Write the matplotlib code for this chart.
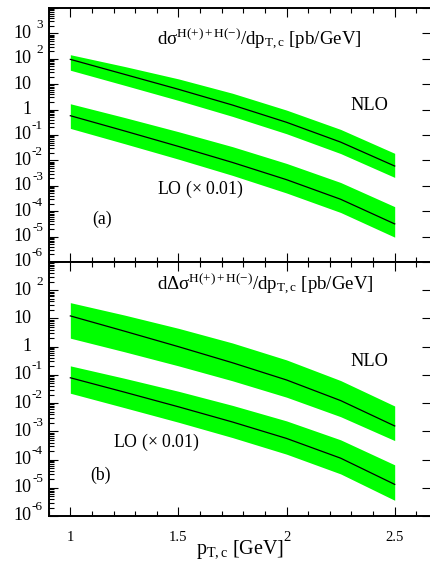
import numpy as np
import matplotlib
matplotlib.use("Agg")
import matplotlib.pyplot as plt
import matplotlib.transforms as mtransforms
from matplotlib.ticker import FixedLocator, LogLocator, NullFormatter, MultipleLocator

plt.rcParams['font.family'] = ['Liberation Serif', 'DejaVu Serif']
plt.rcParams['mathtext.fontset'] = 'custom'
plt.rcParams['mathtext.rm'] = 'Liberation Serif'
plt.rcParams['mathtext.it'] = 'Liberation Serif:italic'
plt.rcParams['mathtext.default'] = 'regular'

# pT,c values (GeV)
pt = [1.0, 1.25, 1.5, 1.75, 2.0, 2.25, 2.5]

# (a) unpolarized cross section [pb/GeV], central value and band edges
a_nlo = [95, 24.5, 6.3, 1.51, 0.316, 0.0525, 0.0060]
a_nlo_up = [145, 50, 16.2, 4.4, 0.955, 0.166, 0.019]
a_nlo_lo = [35.5, 9.1, 2.3, 0.54, 0.112, 0.0186, 0.00214]
a_lo = [0.575, 0.145, 0.0355, 0.0083, 0.00174, 2.95e-4, 3.16e-5]
a_lo_up = [1.70, 0.49, 0.135, 0.0347, 0.0076, 1.35e-3, 1.51e-4]
a_lo_lo = [0.182, 0.0457, 0.0112, 0.00257, 5.2e-4, 8.9e-5, 9.5e-6]

# (b) polarized cross section [pb/GeV]
b_nlo = [12.3, 3.55, 1.0, 0.269, 0.066, 0.0123, 0.00155]
b_nlo_up = [36.3, 13.2, 4.47, 1.35, 0.339, 0.063, 0.0079]
b_nlo_lo = [2.0, 0.66, 0.209, 0.0617, 0.0162, 0.0033, 4.7e-4]
b_lo = [0.079, 0.0245, 0.0074, 0.00214, 5.6e-4, 1.12e-4, 1.32e-5]
b_lo_up = [0.209, 0.076, 0.0263, 0.0083, 0.00234, 5.0e-4, 6.5e-5]
b_lo_lo = [0.0224, 0.0069, 0.0021, 6.0e-4, 1.55e-4, 3.1e-5, 3.6e-6]

xticks = [1, 1.5, 2, 2.5]
xticklabels = ['1', '1.5', '2', '2.5']

green = '#00ff00'
fig = plt.figure(figsize=(4.3, 5.62), dpi=100)
W, H = 430.0, 562.0
x0, x1 = 48.7, 430.8
ax_a = fig.add_axes([x0 / W, 1 - 262 / H, (x1 - x0) / W, 254 / H])
ax_b = fig.add_axes([x0 / W, 1 - 516 / H, (x1 - x0) / W, 254 / H])

panels = [
    (ax_a, a_nlo, a_nlo_up, a_nlo_lo, a_lo, a_lo_up, a_lo_lo, 4, range(-6, 4)),
    (ax_b, b_nlo, b_nlo_up, b_nlo_lo, b_lo, b_lo_up, b_lo_lo, 3, range(-6, 3)),
]
for ax, nlo, nup, nlw, lo, lup, llw, etop, labexp in panels:
    ax.fill_between(pt, nlw, nup, color=green, lw=0)
    ax.plot(pt, nlo, color='black', lw=0.9)
    ax.fill_between(pt, llw, lup, color=green, lw=0)
    ax.plot(pt, lo, color='black', lw=0.9)
    ax.set_yscale('log')
    ax.set_ylim(1e-6, 10.0 ** etop)
    ax.set_xlim(0.9, 2.667)
    ax.yaxis.set_major_locator(FixedLocator([10.0 ** e for e in range(-6, etop + 1)]))
    ax.yaxis.set_minor_locator(LogLocator(base=10, subs=np.arange(2, 10), numticks=30))
    ax.yaxis.set_minor_formatter(NullFormatter())
    ax.tick_params(axis='y', which='both', labelleft=False)
    ax.set_xticks(xticks)
    ax.xaxis.set_minor_locator(MultipleLocator(0.1))
    ax.tick_params(which='both', direction='in', top=True, right=False, width=0.8)
    ax.tick_params(which='major', length=6.5)
    ax.tick_params(which='minor', length=3.5)
    for s in ax.spines.values():
        s.set_linewidth(1.4)
    # right side: major ticks only
    sec = ax.secondary_yaxis('right')
    sec.set_yscale('log')
    sec.yaxis.set_major_locator(FixedLocator([10.0 ** e for e in range(-6, etop + 1)]))
    sec.yaxis.set_minor_locator(FixedLocator([]))
    sec.tick_params(which='major', direction='in', length=6.5, width=0.8, labelright=False)

    # y tick labels: "10" with exponent to its upper right
    tr = mtransforms.blended_transform_factory(ax.transAxes, ax.transData)
    up = mtransforms.ScaledTranslation(0, 8.5 / 100, fig.dpi_scale_trans)
    for e in labexp:
        base = '1' if e == 0 else '10'
        ax.text(-0.046, 10.0 ** e, base, transform=tr, ha='right', va='center',
                fontsize=13, clip_on=False)
        if e not in (0, 1):
            ax.text(-0.015, 10.0 ** e, '%d' % e if e > 0 else '-%d' % (-e), transform=tr + up,
                    ha='right', va='center', fontsize=9.5, clip_on=False)

ax_a.tick_params(axis='x', labelbottom=False)
ax_b.set_xticklabels(xticklabels)
ax_b.tick_params(axis='x', labelsize=10.5, pad=11)
ax_b.set_xlabel(r'$p_{T,c}$ [GeV]', fontsize=14.5, labelpad=-4)

ax_a.text(0.284, 0.856, r'$d\sigma^{H(+)+H(-)}/dp_{T,c}$ [pb/GeV]', transform=ax_a.transAxes,
          fontsize=13.6, va='baseline')
ax_a.text(0.79, 0.598, 'NLO', transform=ax_a.transAxes, fontsize=13.2, va='baseline')
ax_a.text(0.283, 0.268, r'LO ($\times$ 0.01)', transform=ax_a.transAxes, fontsize=12.8, va='baseline')
ax_a.text(0.113, 0.150, '(a)', transform=ax_a.transAxes, fontsize=12.8, va='baseline')

ax_b.text(0.284, 0.890, r'$d\Delta\sigma^{H(+)+H(-)}/dp_{T,c}$ [pb/GeV]', transform=ax_b.transAxes,
          fontsize=13.6, va='baseline')
ax_b.text(0.79, 0.591, 'NLO', transform=ax_b.transAxes, fontsize=13.2, va='baseline')
ax_b.text(0.169, 0.273, r'LO ($\times$ 0.01)', transform=ax_b.transAxes, fontsize=12.8, va='baseline')
ax_b.text(0.110, 0.142, '(b)', transform=ax_b.transAxes, fontsize=12.8, va='baseline')

fig.savefig('out.png', dpi=100)
